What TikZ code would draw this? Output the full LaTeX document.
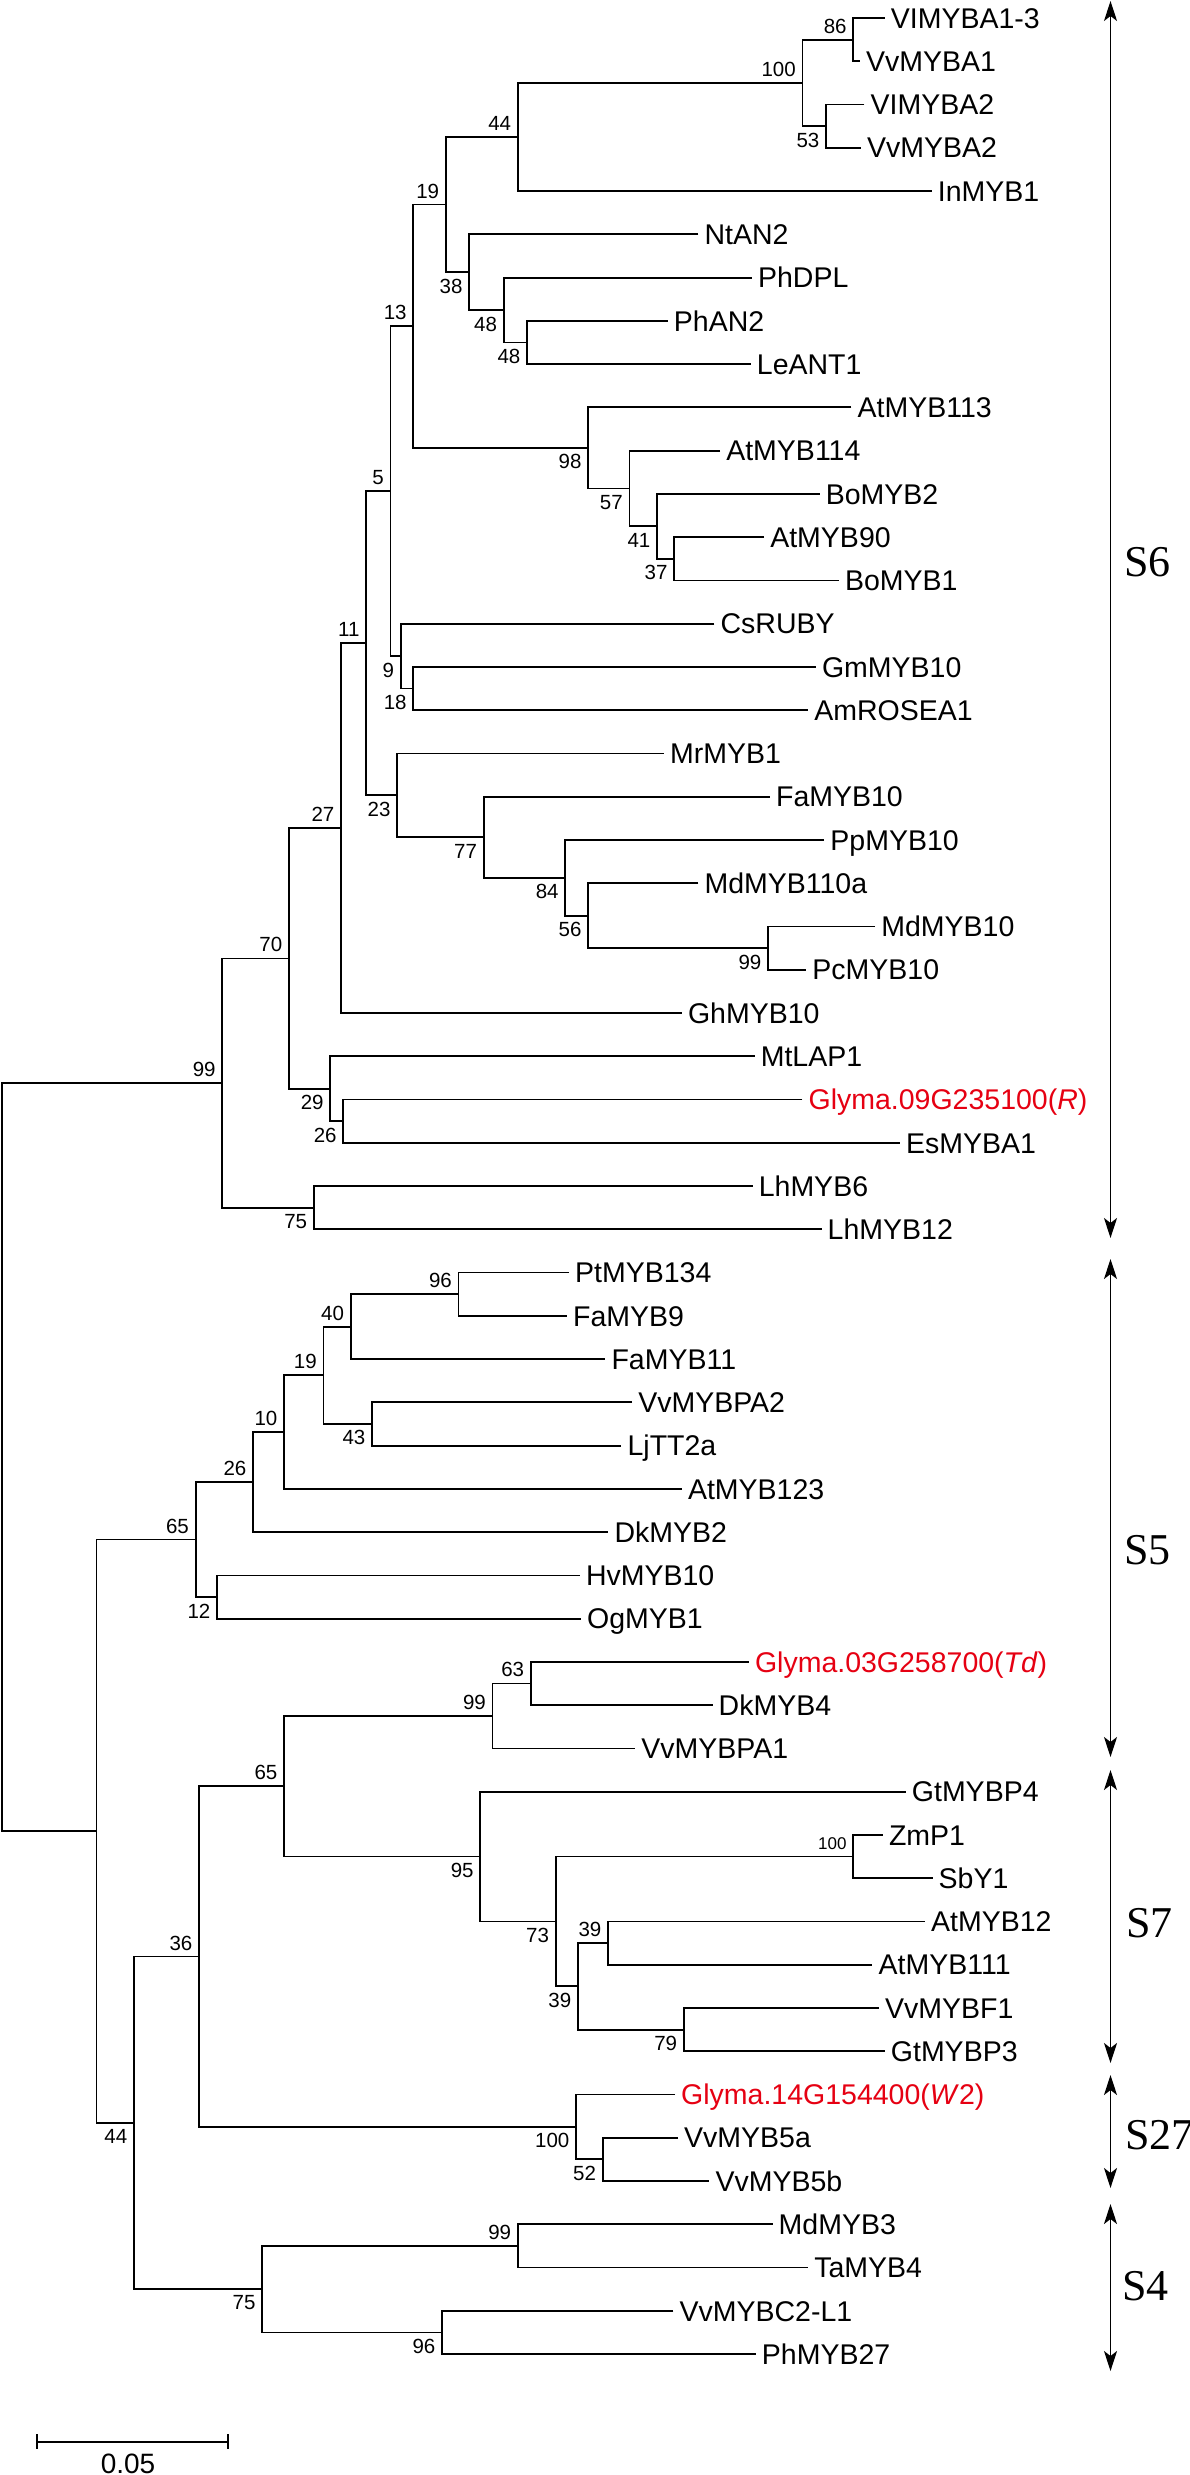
\documentclass[tikz,border=0pt]{standalone}
\usepackage{fontspec}
\setmainfont{Liberation Sans}
\newfontfamily\serifS{Liberation Serif}
\usetikzlibrary{arrows.meta}
\definecolor{glyred}{RGB}{230,0,18}
\newcommand\mkleaf[4]{\coordinate (#1) at (#2,#3);\node[leaf] (t#1) at ([xshift=6pt,yshift=-10.2pt]#1) {#4};}
\newcommand\bsA[2]{\node[bsa] (b#1) at ([xshift=-6.5pt,yshift=6.5pt]#1) {#2};}
\newcommand\bsB[2]{\node[bsb] (b#1) at ([xshift=-6.5pt,yshift=-6.5pt]#1) {#2};}
\begin{document}
\begin{tikzpicture}[x=1pt,y=-1pt,
  br/.style={line width=1.8pt},
  leaf/.style={anchor=base west, inner sep=0pt, font=\fontsize{28.5}{30}\selectfont},
  bsa/.style={anchor=base east, inner sep=0pt, font=\fontsize{20.5}{22}\selectfont},
  bsb/.style={anchor=north east, inner sep=0pt, font=\fontsize{20.5}{22}\selectfont},
  clade/.style={anchor=west, inner sep=0pt, font=\serifS\fontsize{44}{46}\selectfont},
  brk/.style={line width=1.8pt, {Stealth[length=20pt,width=13pt,inset=5pt]}-{Stealth[length=20pt,width=13pt,inset=5pt]}}
]
\fill[white] (0,0) rectangle (1190,2475);
\useasboundingbox (0,0) rectangle (1190,2475);

% leaves
\mkleaf{L0}{884.7}{18}{VIMYBA1-3}
\mkleaf{L1}{859.8}{61.3}{VvMYBA1}
\mkleaf{L2}{864.4}{104.5}{VIMYBA2}
\mkleaf{L3}{861}{147.8}{VvMYBA2}
\mkleaf{L4}{931.7}{191}{InMYB1}
\mkleaf{L5}{698.3}{234.3}{NtAN2}
\mkleaf{L6}{751.9}{277.6}{PhDPL}
\mkleaf{L7}{667.7}{320.8}{PhAN2}
\mkleaf{L8}{750.7}{364}{LeANT1}
\mkleaf{L9}{851.4}{407.3}{AtMYB113}
\mkleaf{L10}{720.1}{450.6}{AtMYB114}
\mkleaf{L11}{819.6}{493.9}{BoMYB2}
\mkleaf{L12}{764.1}{537.1}{AtMYB90}
\mkleaf{L13}{838.8}{580.4}{BoMYB1}
\mkleaf{L14}{714.4}{623.6}{CsRUBY}
\mkleaf{L15}{815.8}{666.9}{GmMYB10}
\mkleaf{L16}{808.1}{710.2}{AmROSEA1}
\mkleaf{L17}{663.9}{753.4}{MrMYB1}
\mkleaf{L18}{769.9}{796.7}{FaMYB10}
\mkleaf{L19}{824.2}{840}{PpMYB10}
\mkleaf{L20}{698.3}{883.2}{MdMYB110a}
\mkleaf{L21}{875.1}{926.5}{MdMYB10}
\mkleaf{L22}{806.2}{969.7}{PcMYB10}
\mkleaf{L23}{681.8}{1013}{GhMYB10}
\mkleaf{L24}{754.6}{1056.3}{MtLAP1}
\mkleaf{L25}{802.4}{1099.5}{\color{glyred}Glyma.09G235100(\textit{R})}
\mkleaf{L26}{900}{1142.8}{EsMYBA1}
\mkleaf{L27}{752.6}{1186}{LhMYB6}
\mkleaf{L28}{821.5}{1229.3}{LhMYB12}
\mkleaf{L29}{569}{1272.5}{PtMYB134}
\mkleaf{L30}{567}{1315.8}{FaMYB9}
\mkleaf{L31}{605.3}{1359}{FaMYB11}
\mkleaf{L32}{632.1}{1402.3}{VvMYBPA2}
\mkleaf{L33}{621.4}{1445.6}{LjTT2a}
\mkleaf{L34}{681.8}{1488.8}{AtMYB123}
\mkleaf{L35}{608.4}{1532}{DkMYB2}
\mkleaf{L36}{579.8}{1575.4}{HvMYB10}
\mkleaf{L37}{581}{1618.6}{OgMYB1}
\mkleaf{L38}{748.8}{1661.9}{\color{glyred}Glyma.03G258700(\textit{Td})}
\mkleaf{L39}{712.5}{1705}{DkMYB4}
\mkleaf{L40}{635.2}{1748.4}{VvMYBPA1}
\mkleaf{L41}{905.7}{1791.7}{GtMYBP4}
\mkleaf{L42}{882.8}{1834.9}{ZmP1}
\mkleaf{L43}{932.5}{1878}{SbY1}
\mkleaf{L44}{924.9}{1921.4}{AtMYB12}
\mkleaf{L45}{872.4}{1964.7}{AtMYB111}
\mkleaf{L46}{879}{2008}{VvMYBF1}
\mkleaf{L47}{884.7}{2051.2}{GtMYBP3}
\mkleaf{L48}{675}{2094.5}{\color{glyred}Glyma.14G154400(\textit{W}2)}
\mkleaf{L49}{678}{2137.7}{VvMYB5a}
\mkleaf{L50}{709.4}{2181}{VvMYB5b}
\mkleaf{L51}{772.5}{2224.3}{MdMYB3}
\mkleaf{L52}{808.1}{2267.5}{TaMYB4}
\mkleaf{L53}{673.4}{2310.8}{VvMYBC2-L1}
\mkleaf{L54}{755.7}{2354}{PhMYB27}

% internal nodes
\coordinate (n86) at (853.3,39.65);
\coordinate (n53) at (826,126.15);
\coordinate (n100a) at (802.4,82.9);
\coordinate (n44) at (517.8,136.95);
\coordinate (n48b) at (527,342.4);
\coordinate (n48a) at (503.6,310);
\coordinate (n38) at (469.2,272.15);
\coordinate (n19) at (445.8,204.55);
\coordinate (n37) at (674.2,558.75);
\coordinate (n41) at (657,526.3);
\coordinate (n57) at (629.4,488.45);
\coordinate (n98) at (588.2,447.9);
\coordinate (n13) at (413.3,326.2);
\coordinate (n18) at (413.3,688.55);
\coordinate (n9) at (400.7,656.1);
\coordinate (n5) at (390.4,491.15);
\coordinate (n99b) at (768,948.1);
\coordinate (n56) at (588.2,915.65);
\coordinate (n84) at (565.3,877.8);
\coordinate (n77) at (483.7,837.25);
\coordinate (n23) at (397.2,795.3);
\coordinate (n11) at (366.2,643.2);
\coordinate (n27) at (341,828.1);
\coordinate (n26) at (343.3,1121.15);
\coordinate (n29) at (330.3,1088.7);
\coordinate (n70) at (288.9,958.4);
\coordinate (n75) at (313.8,1207.65);
\coordinate (n99) at (222.3,1083);
\coordinate (n96) at (458.5,1294.15);
\coordinate (n40) at (350.6,1326.6);
\coordinate (n43) at (372,1423.95);
\coordinate (n19b) at (323.4,1375.3);
\coordinate (n10) at (284,1432.05);
\coordinate (n26b) at (253,1482);
\coordinate (n12) at (217,1597);
\coordinate (n65a) at (195.6,1539.5);
\coordinate (n63) at (530.8,1683.45);
\coordinate (n99c) at (492.5,1715.9);
\coordinate (n100z) at (853.3,1856.45);
\coordinate (n39a) at (608,1943.05);
\coordinate (n79) at (683.8,2029.6);
\coordinate (n39b) at (577.9,1986.3);
\coordinate (n73) at (555.7,1921.4);
\coordinate (n95) at (480.3,1856.55);
\coordinate (n65b) at (284,1786.2);
\coordinate (n52) at (602.6,2159.35);
\coordinate (n100w) at (576,2126.9);
\coordinate (n36) at (199,1956.55);
\coordinate (n99d) at (517.8,2245.9);
\coordinate (n96b) at (442,2332.4);
\coordinate (n75b) at (262.2,2289.15);
\coordinate (n44b) at (134,2122.85);
\coordinate (nX) at (96.4,1831.2);
\coordinate (root) at (1.8,1457.1);

% branches S6
\draw[br] (L0) -| (n86) |- (L1);
\draw[br] (L2) -| (n53) |- (L3);
\draw[br] (n86) -| (n100a) |- (n53);
\draw[br] (n100a) -| (n44) |- (L4);
\draw[br] (L7) -| (n48b) |- (L8);
\draw[br] (L6) -| (n48a) |- (n48b);
\draw[br] (L5) -| (n38) |- (n48a);
\draw[br] (n44) -| (n19) |- (n38);
\draw[br] (L12) -| (n37) |- (L13);
\draw[br] (L11) -| (n41) |- (n37);
\draw[br] (L10) -| (n57) |- (n41);
\draw[br] (L9) -| (n98) |- (n57);
\draw[br] (n19) -| (n13) |- (n98);
\draw[br] (L15) -| (n18) |- (L16);
\draw[br] (L14) -| (n9) |- (n18);
\draw[br] (n13) -| (n5) |- (n9);
\draw[br] (L21) -| (n99b) |- (L22);
\draw[br] (L20) -| (n56) |- (n99b);
\draw[br] (L19) -| (n84) |- (n56);
\draw[br] (L18) -| (n77) |- (n84);
\draw[br] (L17) -| (n23) |- (n77);
\draw[br] (n5) -| (n11) |- (n23);
\draw[br] (n11) -| (n27) |- (L23);
\draw[br] (L25) -| (n26) |- (L26);
\draw[br] (L24) -| (n29) |- (n26);
\draw[br] (n27) -| (n70) |- (n29);
\draw[br] (L27) -| (n75) |- (L28);
\draw[br] (n70) -| (n99) |- (n75);
\draw[br] (n99) -| (root) |- (nX);
% branches rest
\draw[br] (L29) -| (n96) |- (L30);
\draw[br] (n96) -| (n40) |- (L31);
\draw[br] (L32) -| (n43) |- (L33);
\draw[br] (n40) -| (n19b) |- (n43);
\draw[br] (n19b) -| (n10) |- (L34);
\draw[br] (n10) -| (n26b) |- (L35);
\draw[br] (L36) -| (n12) |- (L37);
\draw[br] (n26b) -| (n65a) |- (n12);
\draw[br] (L38) -| (n63) |- (L39);
\draw[br] (n63) -| (n99c) |- (L40);
\draw[br] (L42) -| (n100z) |- (L43);
\draw[br] (L44) -| (n39a) |- (L45);
\draw[br] (L46) -| (n79) |- (L47);
\draw[br] (n39a) -| (n39b) |- (n79);
\draw[br] (n100z) -| (n73) |- (n39b);
\draw[br] (L41) -| (n95) |- (n73);
\draw[br] (n99c) -| (n65b) |- (n95);
\draw[br] (L49) -| (n52) |- (L50);
\draw[br] (L48) -| (n100w) |- (n52);
\draw[br] (n65b) -| (n36) |- (n100w);
\draw[br] (L51) -| (n99d) |- (L52);
\draw[br] (L53) -| (n96b) |- (L54);
\draw[br] (n99d) -| (n75b) |- (n96b);
\draw[br] (n36) -| (n44b) |- (n75b);
\draw[br] (n65a) -| (nX) |- (n44b);

% bootstrap values
\bsA{n86}{86} \bsA{n100a}{100} \bsA{n44}{44} \bsA{n19}{19} \bsA{n13}{13}
\bsA{n5}{5} \bsA{n11}{11} \bsA{n27}{27} \bsA{n70}{70} \bsA{n99}{99}
\bsA{n96}{96} \bsA{n40}{40} \bsA{n19b}{19} \bsA{n10}{10} \bsA{n26b}{26}
\bsA{n65a}{65} \bsA{n63}{63} \bsA{n99c}{99} \bsA{n65b}{65} \bsA{n36}{36}
\bsA{n39a}{39} \bsA{n99d}{99}
\node[bsa, font=\fontsize{17}{18}\selectfont] (bn100z) at ([xshift=-6.5pt,yshift=6.5pt]n100z) {100};
\bsB{n53}{53} \bsB{n38}{38} \bsB{n48a}{48} \bsB{n48b}{48} \bsB{n98}{98}
\bsB{n57}{57} \bsB{n41}{41} \bsB{n37}{37} \bsB{n9}{9} \bsB{n18}{18}
\bsB{n23}{23} \bsB{n77}{77} \bsB{n84}{84} \bsB{n56}{56} \bsB{n99b}{99}
\bsB{n29}{29} \bsB{n26}{26} \bsB{n75}{75} \bsB{n43}{43} \bsB{n12}{12}
\bsB{n95}{95} \bsB{n73}{73} \bsB{n39b}{39} \bsB{n79}{79} \bsB{n100w}{100}
\bsB{n52}{52} \bsB{n44b}{44} \bsB{n75b}{75} \bsB{n96b}{96}

% clade brackets
\coordinate (a6t) at (1110.5,1); \coordinate (a6b) at (1110.5,1238);
\coordinate (a5t) at (1110.5,1259); \coordinate (a5b) at (1110.5,1757);
\coordinate (a7t) at (1110.5,1770); \coordinate (a7b) at (1110.5,2063);
\coordinate (a27t) at (1110.5,2075); \coordinate (a27b) at (1110.5,2188);
\coordinate (a4t) at (1110.5,2204); \coordinate (a4b) at (1110.5,2371);
\draw[brk] (a6t) -- (a6b);
\draw[brk] (a5t) -- (a5b);
\draw[brk] (a7t) -- (a7b);
\draw[brk] (a27t) -- (a27b);
\draw[brk] (a4t) -- (a4b);
\node[clade] (s6) at (1124,562) {S6};
\node[clade] (s5) at (1124,1550) {S5};
\node[clade] (s7) at (1126,1923) {S7};
\node[clade] (s27) at (1125,2135) {S27};
\node[clade] (s4) at (1122,2286) {S4};

% scale bar
\coordinate (sb1) at (37.1,2441.7); \coordinate (sb2) at (228.1,2441.7);
\draw[br] (sb1) -- (sb2);
\draw[br] ([yshift=7.5pt]sb1) -- ([yshift=-7.5pt]sb1);
\draw[br] ([yshift=7.5pt]sb2) -- ([yshift=-7.5pt]sb2);
\node[anchor=base, inner sep=0pt, font=\fontsize{28}{30}\selectfont] (sbt) at (128,2473) {0.05};
\end{tikzpicture}
\end{document}
